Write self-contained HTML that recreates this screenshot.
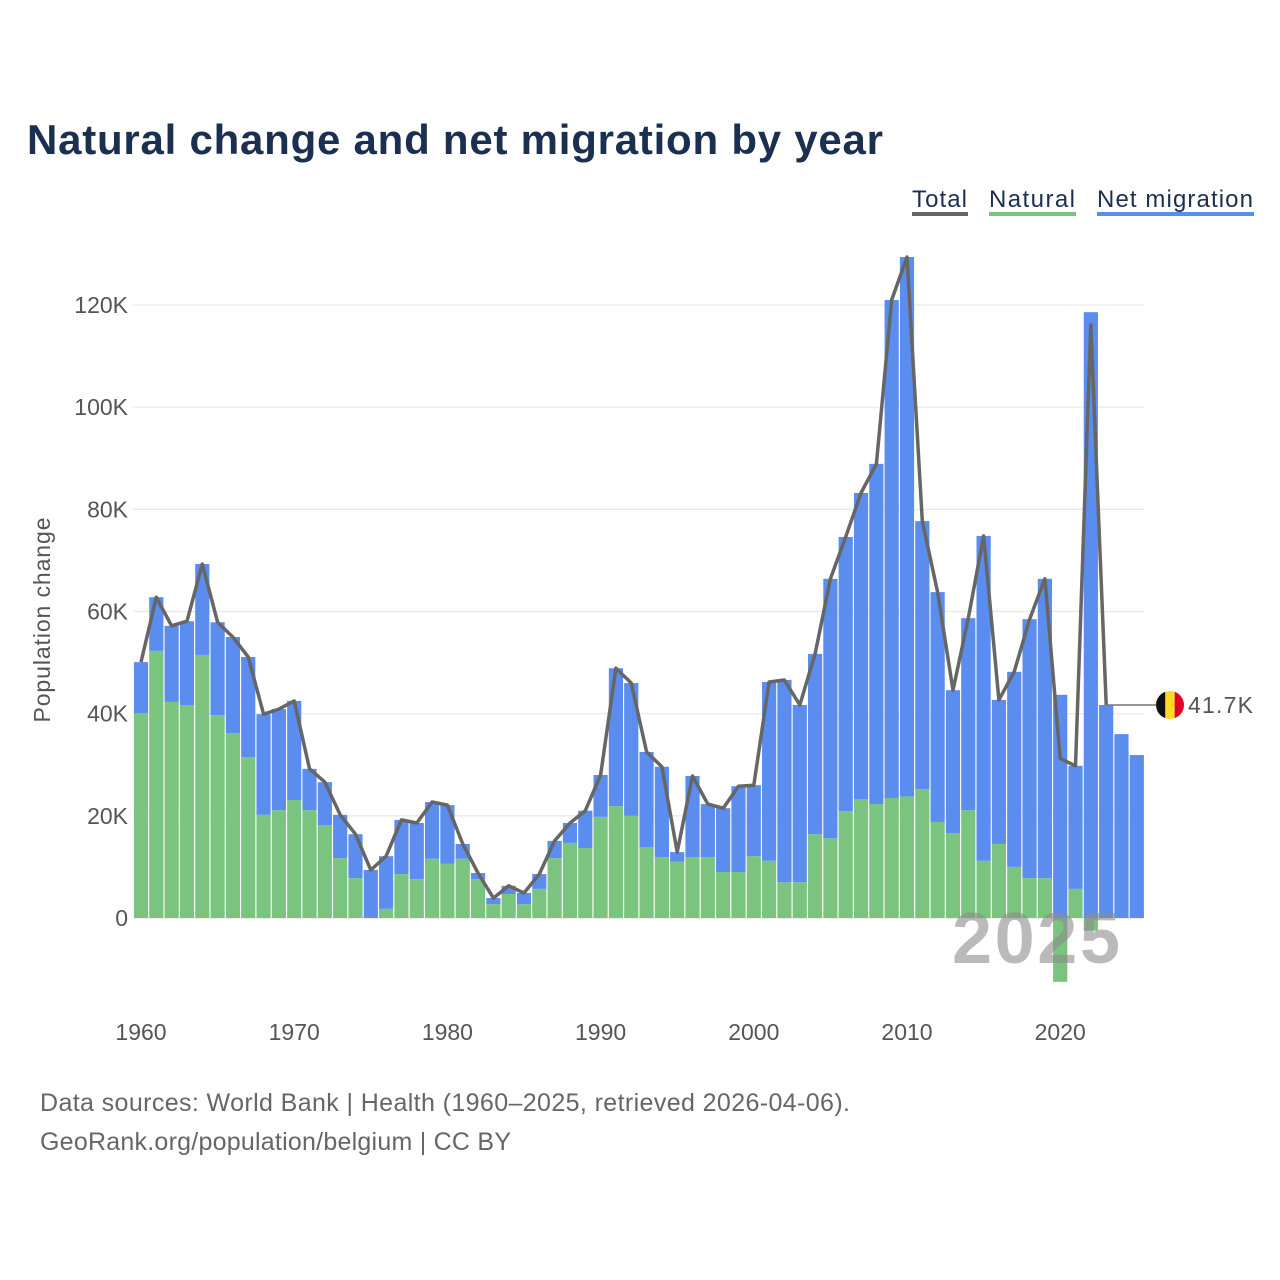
<!DOCTYPE html>
<html><head><meta charset="utf-8">
<style>
body{margin:0;background:#fff;width:1280px;height:1280px;overflow:hidden;font-family:"Liberation Sans",sans-serif}
svg{display:block}
</style></head>
<body>
<svg id="chart" width="1280" height="1280" viewBox="0 0 1280 1280">
<text x="27" y="154" font-size="42" font-weight="bold" fill="#1b2f50" textLength="856">Natural change and net migration by year</text>
<g>
<g><text x="912" y="207" font-size="24" fill="#1b2f50" textLength="55">Total</text><rect x="912" y="212" width="56" height="4" fill="#666"/></g>
<g><text x="989" y="207" font-size="24" fill="#1b2f50" textLength="86">Natural</text><rect x="989" y="212" width="87" height="4" fill="#7bc47f"/></g>
<g><text x="1097" y="207" font-size="24" fill="#1b2f50" textLength="156">Net migration</text><rect x="1097" y="212" width="157" height="4" fill="#5b8def"/></g>
</g>
<g id="grid"></g>
<g id="yticks"></g>
<g id="xticks"></g>
<g id="bars"></g>
<text x="952" y="963" font-size="72" font-weight="bold" fill="rgba(140,140,140,0.6)" textLength="168">2025</text>
<path id="totalLine" fill="none" stroke="#666" stroke-width="3.5" stroke-linejoin="round"/>
<g id="endLabel"></g>
<text transform="translate(50,620) rotate(-90)" font-size="23" fill="#555" text-anchor="middle" textLength="205">Population change</text>
<text x="40" y="1111" font-size="25" fill="#666" textLength="810">Data sources: World Bank | Health (1960–2025, retrieved 2026-04-06).</text>
<text x="40" y="1150" font-size="25" fill="#666" textLength="471">GeoRank.org/population/belgium | CC BY</text>
</svg>
<script>
const startYear = 1960;
const natural = [40.1,52.3,42.3,41.7,51.5,39.7,36.2,31.5,20.2,21.1,23.1,21.1,18.2,11.7,7.8,0,1.8,8.6,7.6,11.6,10.6,11.6,7.6,2.7,4.7,2.7,5.7,11.7,14.7,13.7,19.8,21.9,20.0,13.9,11.9,11.0,11.9,11.9,9.0,9.0,12.1,11.2,7.0,7.0,16.4,15.6,20.9,23.3,22.3,23.5,23.8,25.2,18.8,16.6,21.1,11.2,14.5,10.0,7.8,7.8,-12.5,5.7,-2.5,0,null,null];
const netMigration = [10.0,10.5,14.9,16.4,17.8,18.2,18.8,19.6,19.7,19.8,19.4,8.1,8.4,8.5,8.6,9.4,10.3,10.6,11.0,11.1,11.5,2.9,1.2,1.2,1.6,2.2,2.9,3.4,3.9,7.3,8.2,27.0,26.0,18.6,17.7,1.9,15.9,10.4,12.5,16.8,13.9,35.0,39.6,34.7,35.3,50.8,53.7,59.9,66.6,97.5,105.6,52.5,45.0,28.0,37.6,63.6,28.2,38.2,50.7,58.6,43.7,24.1,118.6,41.7,36.0,31.9];
const yTicks = [0,20,40,60,80,100,120];
const yTickLabels = ["0","20K","40K","60K","80K","100K","120K"];
const xTicks = [1960,1970,1980,1990,2000,2010,2020];
const endValueLabel = "41.7K";

const NS="http://www.w3.org/2000/svg";
const y0=918, pxPerK=5.108, x0=141, pxPerYear=15.32, barW=14.2;
const yScale=v=>y0-v*pxPerK;
const xScale=yr=>x0+(yr-1960)*pxPerYear;
function mk(tag,attrs,parent){const e=document.createElementNS(NS,tag);for(const k in attrs)e.setAttribute(k,attrs[k]);parent.appendChild(e);return e;}
const grid=document.getElementById('grid'),yt=document.getElementById('yticks'),xt=document.getElementById('xticks'),bars=document.getElementById('bars');
yTicks.forEach((t,i)=>{
  const l=mk('line',{x1:133,x2:1144,y1:yScale(t),y2:yScale(t),stroke:'#e8e8e8','stroke-width':1.2},grid);
  
  
  const tx=mk('text',{x:128,y:yScale(t)+8,'font-size':23,fill:'#555','text-anchor':'end'},yt);
  tx.textContent=yTickLabels[i];
  
  
});
xTicks.forEach(t=>{
  const tx=mk('text',{x:xScale(t),y:1040,'font-size':23,fill:'#555','text-anchor':'middle'},xt);
  tx.textContent=String(t);
  
  
});
const pts=[];
netMigration.forEach((net,i)=>{
  const yr=startYear+i, cx=xScale(yr), nat=natural[i]||0;
  let natTop=0,natBot=0,netBase=0;
  if(nat>=0){natTop=nat;netBase=nat;}else{natBot=nat;}
  if(nat!==0){
    const g=mk('rect',{x:cx-barW/2,y:yScale(Math.max(natTop,0)),width:barW,height:Math.abs(yScale(natBot)-yScale(natTop)),fill:'#7bc47f'},bars);
    
    
  }
  const b=mk('rect',{x:cx-barW/2,y:yScale(netBase+net),width:barW,height:net*pxPerK,fill:'#5b8def'},bars);
  
  
  if(natural[i]!==null) pts.push([cx,yScale(net+nat)]);
});
document.getElementById('totalLine').setAttribute('d','M'+pts.map(p=>p[0].toFixed(1)+','+p[1].toFixed(1)).join('L'));
const last=pts[pts.length-1], el=document.getElementById('endLabel');
mk('line',{x1:last[0],x2:1156,y1:last[1],y2:last[1],stroke:'#777','stroke-width':1.5},el);
const cx=1170,cy=last[1],r=14;
const cp=mk('clipPath',{id:'flagclip'},el);mk('circle',{cx:cx,cy:cy,r:r},cp);
const fg=mk('g',{'clip-path':'url(#flagclip)'},el);


mk('rect',{x:cx-r,y:cy-r,width:r*2/3,height:2*r,fill:'#111'},fg);
mk('rect',{x:cx-r/3,y:cy-r,width:r*2/3,height:2*r,fill:'#fdda24'},fg);
mk('rect',{x:cx+r/3,y:cy-r,width:r*2/3,height:2*r,fill:'#e0002a'},fg);
const lt=mk('text',{x:1188,y:cy+8,'font-size':23,fill:'#555',textLength:65},el);
lt.textContent=endValueLabel;


</script>
</body></html>
